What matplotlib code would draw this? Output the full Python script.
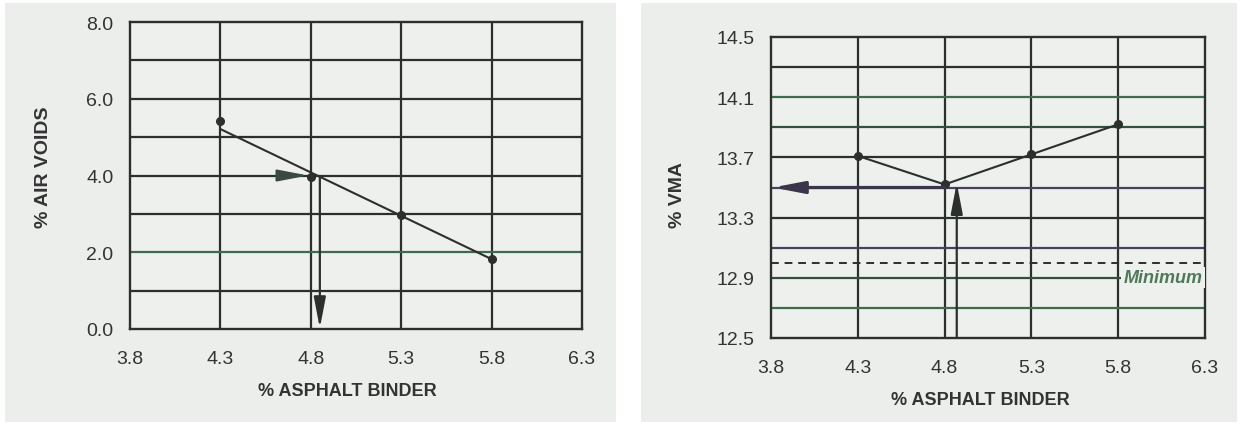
import matplotlib
matplotlib.use('Agg')
import matplotlib.pyplot as plt
from matplotlib.patches import Rectangle

plt.rcParams['font.family'] = ['Liberation Sans', 'DejaVu Sans']

# data
binder = [4.3, 4.8, 5.3, 5.8]
air_voids = [5.43, 3.96, 2.97, 1.82]
fit_x = [4.3, 5.8]
fit_y = [5.21, 1.82]
vma = [13.71, 13.52, 13.72, 13.92]

x_ticks = [3.8, 4.3, 4.8, 5.3, 5.8, 6.3]
x_grid = [4.3, 4.8, 5.3, 5.8]
av_ticks = [0.0, 2.0, 4.0, 6.0, 8.0]
av_grid = [1, 2, 3, 4, 5, 6, 7]
vma_ticks = [12.5, 12.9, 13.3, 13.7, 14.1, 14.5]
vma_grid = [12.7, 12.9, 13.1, 13.3, 13.5, 13.7, 13.9, 14.1, 14.3]
vma_min = 13.0
opt_binder_av = 4.85
opt_binder_vma = 4.87
vma_at_opt = 13.5

INK = '#2b302d'
GREEN = '#3f6b4b'
PURPLE = '#4a4060'
TXT = '#333333'
PANEL = '#eceeec'

av_grid_colors = [INK, GREEN, INK, INK, INK, INK, INK]
vma_grid_colors = [GREEN, '#33503d', PURPLE, INK, PURPLE, INK, '#33503d', GREEN, INK]

ARROW = '-|>,head_length=1.25,head_width=0.24'

fig = plt.figure(figsize=(12.41, 4.27), dpi=100)
fig.patch.set_facecolor('white')
W, H = 1241, 427
fig.patches.append(Rectangle((5 / W, 4 / H), 611 / W, 419 / H, transform=fig.transFigure,
                             facecolor=PANEL, edgecolor='none', zorder=-5))
fig.patches.append(Rectangle((641 / W, 4 / H), 596 / W, 419 / H, transform=fig.transFigure,
                             facecolor=PANEL, edgecolor='none', zorder=-5))

ax1 = fig.add_axes([130 / W, 1 - 330 / H, 452 / W, 307 / H])
ax2 = fig.add_axes([771 / W, 1 - 339 / H, 434 / W, 301 / H])


def style_axes(ax, yticks, ylabels):
    ax.set_facecolor('#eef0ee')
    ax.set_xticks(x_ticks)
    ax.set_xticklabels([f'{v:.1f}' for v in x_ticks])
    ax.set_yticks(yticks)
    ax.set_yticklabels(ylabels)
    ax.tick_params(length=0, labelsize=14, labelcolor=TXT)
    ax.tick_params(axis='x', pad=15)
    ax.tick_params(axis='y', pad=12)
    for s in ax.spines.values():
        s.set_color(INK)
        s.set_linewidth(1.7)
    for xv in x_grid:
        ax.axvline(xv, color=INK, lw=1.6, zorder=1)


# left: air voids
style_axes(ax1, av_ticks, [f'{v:.1f}' for v in av_ticks])
ax1.set_xlim(3.8, 6.3)
ax1.set_ylim(0, 8)
for yv, c in zip(av_grid, av_grid_colors):
    ax1.axhline(yv, color=c, lw=1.6, zorder=1)
ax1.plot(fit_x, fit_y, color=INK, lw=1.5, zorder=3)
ax1.plot(binder, air_voids, 'o', color=INK, ms=5.5, zorder=4)
ax1.annotate('', xy=(4.785, 4.0), xytext=(4.65, 4.0),
             arrowprops=dict(arrowstyle=ARROW, mutation_scale=15,
                             color='#3a4a40', lw=1.5, shrinkA=0, shrinkB=0), zorder=5)
ax1.annotate('', xy=(opt_binder_av, 0.02), xytext=(opt_binder_av, 3.96),
             arrowprops=dict(arrowstyle=ARROW, mutation_scale=15,
                             color=INK, lw=1.6, shrinkA=0, shrinkB=0), zorder=5)
ax1.set_xlabel('% ASPHALT BINDER', fontsize=13, fontweight='bold', color=TXT)
ax1.xaxis.set_label_coords(0.482, -0.172)
ax1.set_ylabel('% AIR VOIDS', fontsize=14, fontweight='bold', color=TXT)
ax1.yaxis.set_label_coords(-0.173, 0.531)

# right: VMA
style_axes(ax2, vma_ticks, [f'{v:.1f}' for v in vma_ticks])
ax2.set_xlim(3.8, 6.3)
ax2.set_ylim(12.5, 14.5)
for yv, c in zip(vma_grid, vma_grid_colors):
    ax2.axhline(yv, color=c, lw=1.6, zorder=1)
ax2.axhline(vma_min, color=INK, lw=1.4, ls=(0, (4, 3)), zorder=2)
ax2.plot(binder, vma, color=INK, lw=1.5, marker='o', ms=5.5, zorder=4)
ax2.annotate('', xy=(3.81, vma_at_opt), xytext=(4.8, vma_at_opt),
             arrowprops=dict(arrowstyle=ARROW, mutation_scale=15,
                             color='#3a3548', lw=2.3, shrinkA=0, shrinkB=0), zorder=5)
ax2.annotate('', xy=(opt_binder_vma, 13.53), xytext=(opt_binder_vma, 12.5),
             arrowprops=dict(arrowstyle=ARROW, mutation_scale=15,
                             color=INK, lw=1.6, shrinkA=0, shrinkB=0), zorder=5)
ax2.text(6.285, 12.9, 'Minimum', ha='right', va='center', fontsize=13,
         fontstyle='italic', fontweight='bold', color='#4f7a58', zorder=6,
         bbox=dict(facecolor='#eef0ee', edgecolor='none', pad=1.5))
ax2.set_xlabel('% ASPHALT BINDER', fontsize=13, fontweight='bold', color=TXT)
ax2.xaxis.set_label_coords(0.482, -0.176)
ax2.set_ylabel('% VMA', fontsize=14, fontweight='bold', color=TXT)
ax2.yaxis.set_label_coords(-0.196, 0.478)

fig.savefig('out.png', dpi=100)
